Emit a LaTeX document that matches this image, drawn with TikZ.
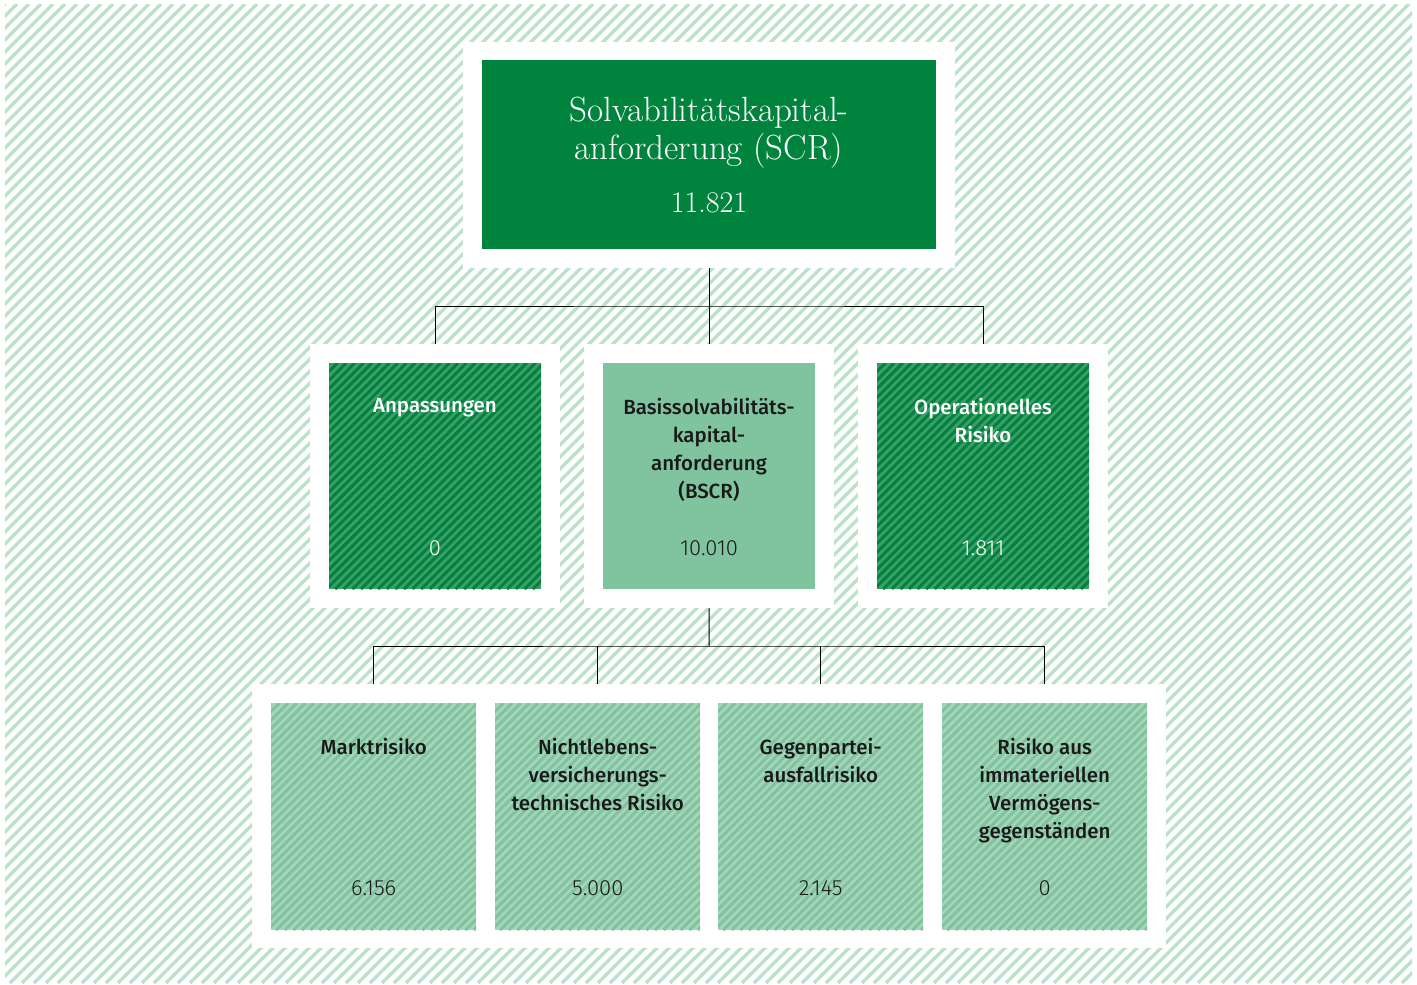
\documentclass[tikz,border=0pt]{standalone}
\usepackage{fontspec}
\newfontfamily\lblfont{Fira Sans Medium}
\newfontfamily\numfont{Fira Sans Light}
\definecolor{bgstripe}{RGB}{190,225,205}
\definecolor{scrgreen}{RGB}{0,132,61}
\definecolor{midgreen}{RGB}{128,195,159}
\definecolor{hatchbase}{RGB}{62,158,106}
\definecolor{lightbase}{RGB}{166,212,187}
\definecolor{txtdark}{RGB}{25,25,25}
\newcommand{\hatchrect}[7]{%
  \begin{scope}
    \clip (#1,#2) rectangle (#3,#4);
    \pgfmathsetmacro{\hh}{#4-#2}
    \pgfmathsetmacro{\xs}{#1-\hh}
    \pgfmathsetmacro{\xn}{\xs+#5}
    \pgfmathsetmacro{\xe}{#3}
    \foreach \xx in {\xs,\xn,...,\xe} {
      \draw[#7,line width=#6pt] (\xx,#4) -- ++(\hh,-\hh);
    }
  \end{scope}}
\begin{document}
\begin{tikzpicture}[x=1pt,y=-1pt,
  frame/.style={fill=white,draw=none,inner sep=0pt,anchor=north west},
  box/.style={draw=none,inner sep=0pt,anchor=north west},
  lbl/.style={font=\lblfont\fontsize{20.5}{28}\selectfont,align=center,anchor=north,inner sep=0pt},
  num/.style={font=\numfont\fontsize{22}{26}\selectfont,anchor=center,inner sep=0pt},
  conn/.style={draw=black,line width=1pt}]
\useasboundingbox (0,0) rectangle (1417,985);
\fill[white] (0,0) rectangle (1417,985);
\hatchrect{5}{4}{1412}{983}{12}{3.4}{bgstripe}

% frames
\node[frame,minimum width=492pt,minimum height=226pt] (frSCR) at (463,42) {};
\node[frame,minimum width=250pt,minimum height=264pt] (frAnp) at (310,344) {};
\node[frame,minimum width=250pt,minimum height=264pt] (frBSCR) at (584,344) {};
\node[frame,minimum width=250pt,minimum height=264pt] (frOp) at (858,344) {};
\node[frame,minimum width=914pt,minimum height=264pt] (frBot) at (252,684) {};

% top box
\node[box,fill=scrgreen,minimum width=454pt,minimum height=189pt] (scr) at (482,60) {};
\node[font=\fontsize{35}{38}\selectfont,text=white,align=center,anchor=center,inner sep=0pt] (scrT) at (709,133) {Solvabilitätskapital-\\anforderung (SCR)};
\node[font=\fontsize{30}{38}\selectfont,text=white,anchor=center,inner sep=0pt] (scrN) at (709,203) {11.821};

% middle boxes
\fill[hatchbase] (329,363) rectangle (541,589);
\hatchrect{329}{363}{541}{589}{8.6}{3.0}{scrgreen}
\node[box,minimum width=212pt,minimum height=226pt] (anp) at (329,363) {};
\node[lbl,text=white] (anpT) at (435,398) {Anpassungen};
\node[num,text=white] (anpN) at (435,548) {0};

\node[box,fill=midgreen,minimum width=212pt,minimum height=226pt] (bscr) at (603,363) {};
\node[lbl,text=txtdark] (bscrT) at (709,398) {Basissolvabilitäts-\\kapital-\\anforderung\\(BSCR)};
\node[num,text=txtdark] (bscrN) at (709,548) {10.010};

\fill[hatchbase] (877,363) rectangle (1089,589);
\hatchrect{877}{363}{1089}{589}{8.6}{3.0}{scrgreen}
\node[box,minimum width=212pt,minimum height=226pt] (op) at (877,363) {};
\node[lbl,text=white] (opT) at (983,398) {Operationelles\\Risiko};
\node[num,text=white] (opN) at (983,548) {1.811};

% bottom boxes
\foreach \bx in {271,495,718,942} {
  \pgfmathsetmacro{\bxe}{\bx+205}
  \fill[lightbase] (\bx,703) rectangle (\bxe,930);
  \hatchrect{\bx}{703}{\bxe}{930}{8.6}{3.0}{midgreen}
}
\node[box,minimum width=205pt,minimum height=227pt] (mr) at (271,703) {};
\node[box,minimum width=205pt,minimum height=227pt] (nl) at (495,703) {};
\node[box,minimum width=205pt,minimum height=227pt] (gp) at (718,703) {};
\node[box,minimum width=205pt,minimum height=227pt] (im) at (942,703) {};
\node[lbl,text=txtdark] (mrT) at (mr.north |- 0,738) {Marktrisiko};
\node[lbl,text=txtdark] (nlT) at (nl.north |- 0,738) {Nichtlebens-\\versicherungs-\\technisches Risiko};
\node[lbl,text=txtdark] (gpT) at (gp.north |- 0,738) {Gegenpartei-\\ausfallrisiko};
\node[lbl,text=txtdark] (imT) at (im.north |- 0,738) {Risiko aus\\immateriellen\\Vermögens-\\gegenständen};
\node[num,text=txtdark] (mrN) at (mr.north |- 0,888) {6.156};
\node[num,text=txtdark] (nlN) at (nl.north |- 0,888) {5.000};
\node[num,text=txtdark] (gpN) at (gp.north |- 0,888) {2.145};
\node[num,text=txtdark] (imN) at (im.north |- 0,888) {0};

% connectors
\coordinate (j1) at (709,306);
\coordinate (j2) at (709,646);
\draw[conn] (frSCR.south) -- (frBSCR.north);
\draw[conn] (frAnp.north) |- (j1) -| (frOp.north);
\draw[conn] (frBSCR.south) -- (j2);
\draw[conn] (mr.north |- frBot.north) |- (j2) -| (im.north |- frBot.north);
\draw[conn] (nl.north |- frBot.north) -- (nl.north |- j2);
\draw[conn] (gp.north |- frBot.north) -- (gp.north |- j2);
\end{tikzpicture}
\end{document}
